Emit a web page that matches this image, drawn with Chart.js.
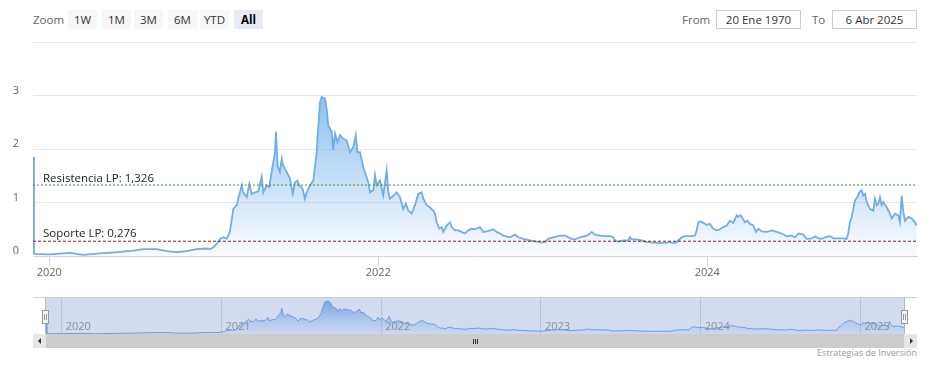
<!DOCTYPE html>
<html>
<head>
<meta charset="utf-8">
<title>Cotización</title>
<script src="https://cdn.jsdelivr.net/npm/chart.js@4.4.1/dist/chart.umd.min.js"></script>
<style>
  body { margin: 0; background: #fff; font-family: "Open Sans", sans-serif; }
  #wrap { position: relative; width: 929px; height: 367px; overflow: hidden; }
  .abs { position: absolute; }
  .txt { top: 10px; height: 19px; line-height: 19px; font-size: 11.5px; color: #666; }
  .btn { top: 10px; width: 29px; height: 19px; line-height: 19px; background: #f7f7f7; color: #333;
         font-size: 11.5px; text-align: center; }
  .btn.on { background: #e6ebf5; color: #000; font-weight: bold; }
  .inp { top: 10px; width: 83px; height: 17px; line-height: 17px; border: 1px solid #ccc; color: #333;
         font-size: 11.5px; text-align: center; }
  .handle { top: 310px; width: 5px; height: 12px; background: #f2f2f2; border: 1px solid #999; }
  .handle i { position: absolute; top: 3px; width: 1px; height: 6px; background: #999; }
  .arrow { width: 0; height: 0; border-top: 3px solid transparent; border-bottom: 3px solid transparent; }
  .grip { top: 339px; width: 1px; height: 5px; background: #333; }
</style>
</head>
<body>
<div id="wrap">
  <div class="abs txt" style="left:33px">Zoom</div>
  <div id="buttons"></div>
  <div class="abs txt" style="left:682px">From</div>
  <div class="abs inp" id="fromBox" style="left:716px"></div>
  <div class="abs txt" style="left:812px">To</div>
  <div class="abs inp" id="toBox" style="left:832px"></div>

  <canvas id="mainChart" class="abs" width="929" height="290" style="left:0;top:0"></canvas>

  <div class="abs" style="left:33px;top:297px;width:884px;height:1px;background:#cfcfcf"></div>
  <canvas id="navChart" class="abs" width="858" height="38" style="left:46px;top:296px"></canvas>
  <div class="abs" style="left:45px;top:298px;width:1px;height:36px;background:#b8b8c0"></div>
  <div class="abs" style="left:904px;top:298px;width:1px;height:36px;background:#b8b8c0"></div>
  <div class="abs handle" style="left:42px"><i style="left:1px"></i><i style="left:3px"></i></div>
  <div class="abs handle" style="left:901px"><i style="left:1px"></i><i style="left:3px"></i></div>

  <div class="abs" style="left:33px;top:334px;width:884px;height:14px;background:#f2f2f2"></div>
  <div class="abs" style="left:46px;top:334px;width:858px;height:14px;background:#cccccc"></div>
  <div class="abs" style="left:33px;top:334px;width:13px;height:14px;background:#e6e6e6"></div>
  <div class="abs" style="left:904px;top:334px;width:13px;height:14px;background:#e6e6e6"></div>
  <div class="abs arrow" style="left:38px;top:338px;border-right:3px solid #333"></div>
  <div class="abs arrow" style="left:910px;top:338px;border-left:3px solid #333"></div>
  <div class="abs grip" style="left:473px"></div>
  <div class="abs grip" style="left:475px"></div>
  <div class="abs grip" style="left:477px"></div>

  <div class="abs" id="credits" style="right:12px;top:346px;font-size:9px;color:#999"></div>
</div>
<script>

// fecha en años decimales
var dates = [
  2019.902, 2019.907, 2020.004, 2020.126, 2020.207, 2020.308, 2020.410, 2020.511, 2020.571, 2020.653,
  2020.714, 2020.774, 2020.835, 2020.896, 2020.957, 2020.977, 2020.997, 2021.018, 2021.038, 2021.058,
  2021.078, 2021.098, 2021.119, 2021.139, 2021.149, 2021.159, 2021.170, 2021.179, 2021.200, 2021.216,
  2021.230, 2021.250, 2021.271, 2021.291, 2021.301, 2021.322, 2021.337, 2021.352, 2021.362, 2021.372,
  2021.378, 2021.388, 2021.402, 2021.413, 2021.422, 2021.443, 2021.463, 2021.480, 2021.494, 2021.508,
  2021.520, 2021.540, 2021.554, 2021.565, 2021.585, 2021.605, 2021.615, 2021.626, 2021.629, 2021.646,
  2021.656, 2021.676, 2021.686, 2021.696, 2021.717, 2021.726, 2021.737, 2021.751, 2021.767, 2021.787,
  2021.808, 2021.828, 2021.848, 2021.863, 2021.873, 2021.889, 2021.909, 2021.919, 2021.939, 2021.950,
  2021.970, 2021.980, 2021.990, 2022.010, 2022.030, 2022.051, 2022.061, 2022.071, 2022.091, 2022.112,
  2022.132, 2022.152, 2022.168, 2022.182, 2022.203, 2022.223, 2022.243, 2022.264, 2022.274, 2022.294,
  2022.314, 2022.334, 2022.345, 2022.355, 2022.371, 2022.385, 2022.395, 2022.416, 2022.436, 2022.446,
  2022.466, 2022.486, 2022.507, 2022.527, 2022.547, 2022.568, 2022.588, 2022.618, 2022.638, 2022.659,
  2022.679, 2022.699, 2022.720, 2022.740, 2022.760, 2022.801, 2022.831, 2022.851, 2022.881, 2022.922,
  2022.963, 2022.993, 2023.013, 2023.033, 2023.064, 2023.105, 2023.135, 2023.155, 2023.176, 2023.196,
  2023.226, 2023.267, 2023.287, 2023.297, 2023.317, 2023.348, 2023.378, 2023.409, 2023.429, 2023.439,
  2023.459, 2023.489, 2023.520, 2023.530, 2023.540, 2023.571, 2023.601, 2023.632, 2023.672, 2023.712,
  2023.753, 2023.773, 2023.793, 2023.814, 2023.824, 2023.844, 2023.864, 2023.895, 2023.925, 2023.936,
  2023.945, 2023.956, 2023.976, 2023.996, 2024.016, 2024.036, 2024.057, 2024.077, 2024.097, 2024.118,
  2024.138, 2024.158, 2024.179, 2024.188, 2024.203, 2024.215, 2024.229, 2024.243, 2024.260, 2024.280,
  2024.296, 2024.310, 2024.331, 2024.361, 2024.392, 2024.422, 2024.452, 2024.483, 2024.513, 2024.533,
  2024.553, 2024.584, 2024.604, 2024.635, 2024.655, 2024.675, 2024.695, 2024.716, 2024.746, 2024.766,
  2024.796, 2024.827, 2024.847, 2024.857, 2024.867, 2024.878, 2024.898, 2024.912, 2024.924, 2024.939,
  2024.948, 2024.959, 2024.969, 2024.989, 2025.009, 2025.019, 2025.030, 2025.040, 2025.050, 2025.060,
  2025.070, 2025.091, 2025.111, 2025.121, 2025.141, 2025.161, 2025.171, 2025.182, 2025.192, 2025.202,
  2025.222, 2025.243, 2025.263, 2025.273
];

var prices = [
  1.85, 0.04, 0.03, 0.06, 0.02, 0.05, 0.07, 0.10, 0.13, 0.13,
  0.09, 0.07, 0.09, 0.13, 0.14, 0.13, 0.16, 0.23, 0.32, 0.35,
  0.32, 0.45, 0.88, 0.95, 1.07, 1.19, 1.32, 1.19, 1.10, 1.35,
  1.16, 1.19, 1.21, 1.48, 1.19, 1.32, 1.29, 1.57, 1.76, 1.94,
  2.32, 1.69, 1.57, 1.82, 1.69, 1.57, 1.45, 1.16, 1.38, 1.41,
  1.32, 1.26, 1.07, 1.19, 1.32, 1.41, 1.66, 1.94, 2.16, 2.88,
  2.97, 2.94, 2.76, 2.44, 2.32, 1.98, 2.29, 2.13, 2.26, 2.19,
  2.16, 1.94, 2.04, 2.26, 1.94, 1.94, 1.66, 1.57, 1.38, 1.19,
  1.23, 1.51, 1.32, 1.41, 1.13, 1.60, 1.19, 1.07, 1.13, 1.19,
  1.10, 0.88, 0.98, 0.85, 0.79, 0.95, 1.16, 1.19, 1.07, 0.95,
  0.91, 0.85, 0.79, 0.63, 0.51, 0.54, 0.45, 0.57, 0.63, 0.54,
  0.48, 0.48, 0.45, 0.42, 0.48, 0.51, 0.50, 0.54, 0.45, 0.46,
  0.48, 0.50, 0.45, 0.42, 0.38, 0.35, 0.40, 0.35, 0.32, 0.29,
  0.27, 0.25, 0.26, 0.32, 0.35, 0.38, 0.38, 0.35, 0.32, 0.31,
  0.35, 0.38, 0.42, 0.45, 0.40, 0.38, 0.37, 0.37, 0.35, 0.29,
  0.27, 0.29, 0.29, 0.35, 0.31, 0.31, 0.29, 0.26, 0.25, 0.24,
  0.25, 0.26, 0.24, 0.26, 0.29, 0.35, 0.37, 0.37, 0.38, 0.48,
  0.63, 0.65, 0.62, 0.58, 0.60, 0.51, 0.48, 0.50, 0.54, 0.57,
  0.66, 0.62, 0.76, 0.73, 0.76, 0.70, 0.63, 0.66, 0.60, 0.57,
  0.45, 0.51, 0.46, 0.45, 0.48, 0.45, 0.42, 0.37, 0.38, 0.35,
  0.42, 0.40, 0.32, 0.33, 0.37, 0.33, 0.32, 0.35, 0.37, 0.33,
  0.33, 0.33, 0.32, 0.42, 0.63, 0.73, 1.04, 1.10, 1.19, 1.23,
  1.13, 1.16, 1.01, 0.88, 0.85, 1.07, 0.95, 0.98, 1.10, 0.95,
  1.01, 0.91, 0.79, 0.70, 0.79, 0.76, 0.63, 1.13, 0.82, 0.66,
  0.73, 0.70, 0.63, 0.57
];

var resistance = 1.326;
var support = 0.276;
var yTicks = [0, 1, 2, 3, 4];
var mainYears = [2020, 2022, 2024];
var navYears = [2020, 2021, 2022, 2023, 2024, 2025];
var zoomButtons = ["1W", "1M", "3M", "6M", "YTD", "All"];
var fromDate = "20 Ene 1970";
var toDate = "6 Abr 2025";
var credits = "Estrategias de Inversión";

var xMin = 2019.901;
var xMax = 2025.275;

function buildPoints() {

  var points = [];
  for (var i = 0; i < dates.length; i++) {

    points.push({ x: dates[i], y: prices[i] });
  }
  return points;
}

function buildTopBar() {

  var lefts = [68, 102, 134, 168, 200, 234];
  var holder = document.getElementById("buttons");
  for (var i = 0; i < zoomButtons.length; i++) {

    var b = document.createElement("div");
    b.className = "abs btn" + (zoomButtons[i] == "All" ? " on" : "");
    b.style.left = lefts[i] + "px";
    b.textContent = zoomButtons[i];
    holder.appendChild(b);
  }
  document.getElementById("fromBox").textContent = fromDate;
  document.getElementById("toBox").textContent = toDate;
  document.getElementById("credits").textContent = credits;
}

function fmt(v) {

  return v.toFixed(3).replace(".", ",");
}

var levelLabels = {
  id: "levelLabels",
  afterDatasetsDraw: function(chart) {

    var ctx = chart.ctx;
    var y = chart.scales.y;
    var left = chart.chartArea.left + 10;
    ctx.save();
    ctx.font = "11.5px 'Open Sans', sans-serif";
    ctx.fillStyle = "#222";
    ctx.textBaseline = "alphabetic";
    ctx.fillText("Resistencia LP: " + fmt(resistance), left, y.getPixelForValue(resistance) - 3);
    ctx.fillText("Soporte LP: " + fmt(support), left, y.getPixelForValue(support) - 4);
    ctx.restore();
  }
};

function mainChart() {

  var points = buildPoints();
  var top = Math.max.apply(null, prices);
  var ctx = document.getElementById("mainChart").getContext("2d");

  new Chart(ctx, {
    type: "line",
    data: {
      datasets: [{
        data: points,
        borderColor: "#72aee6",
        borderWidth: 1.8,
        pointRadius: 0,
        fill: "origin",
        order: 2,
        backgroundColor: function(context) {
          var chart = context.chart;
          if (!chart.chartArea) return "rgba(124,181,236,0.3)";
          var yTop = chart.scales.y.getPixelForValue(top);
          var g = chart.ctx.createLinearGradient(0, yTop, 0, chart.chartArea.bottom);
          g.addColorStop(0, "rgba(124,181,236,0.85)");
          g.addColorStop(1, "rgba(124,181,236,0.04)");
          return g;
        }
      }, {
        data: [{ x: xMin, y: resistance }, { x: xMax, y: resistance }],
        borderColor: "#3f8f3f",
        borderWidth: 1,
        borderDash: [2, 2],
        pointRadius: 0,
        fill: false,
        order: 1
      }, {
        data: [{ x: xMin, y: support }, { x: xMax, y: support }],
        borderColor: "#8b1e1e",
        borderWidth: 1,
        borderDash: [3, 2],
        pointRadius: 0,
        fill: false,
        order: 1
      }]
    },
    options: {
      responsive: false,
      animation: false,
      devicePixelRatio: 1,
      layout: { padding: { top: 42, right: 12, left: 0, bottom: 0 } },
      plugins: { legend: { display: false }, tooltip: { enabled: false } },
      elements: { line: { tension: 0 } },
      scales: {
        x: {
          type: "linear",
          min: xMin,
          max: xMax,
          afterBuildTicks: function(scale) {
            scale.ticks = mainYears.map(function(v) { return { value: v }; });
          },
          afterFit: function(scale) { scale.height = 34; },
          grid: { drawOnChartArea: false, drawTicks: true, tickLength: 10, color: "#ccd6eb" },
          border: { display: true, color: "#ccd6eb" },
          ticks: {
            color: "#666",
            font: { family: "'Open Sans', sans-serif", size: 11 },
            padding: 0,
            maxRotation: 0,
            callback: function(v) { return String(v); }
          }
        },
        y: {
          min: 0,
          max: 4,
          afterBuildTicks: function(scale) {
            scale.ticks = yTicks.map(function(v) { return { value: v }; });
          },
          afterFit: function(scale) { scale.width = 33; },
          grid: { color: "#e6e6e6", drawTicks: false },
          border: { display: false },
          ticks: {
            color: "#666",
            font: { family: "'Open Sans', sans-serif", size: 11 },
            padding: 14,
            labelOffset: -5,
            callback: function(v) { return v == 4 ? "" : String(v); }
          }
        }
      }
    },
    plugins: [levelLabels]
  });
}

var navigatorDecor = {
  id: "navigatorDecor",
  beforeDraw: function(chart) {

    var a = chart.chartArea;
    var ctx = chart.ctx;
    ctx.save();
    ctx.fillStyle = "#d3dbef";
    ctx.fillRect(a.left, a.top, a.right - a.left, a.bottom - a.top);
    ctx.restore();
  },
  afterDraw: function(chart) {

    var ctx = chart.ctx;
    var x = chart.scales.x;
    ctx.save();
    ctx.font = "11px 'Open Sans', sans-serif";
    ctx.fillStyle = "#8a8f99";
    ctx.textBaseline = "middle";
    for (var i = 0; i < navYears.length; i++) {

      ctx.fillText(String(navYears[i]), x.getPixelForValue(navYears[i]) + 4, chart.chartArea.bottom - 7);
    }
    ctx.restore();
  }
};

function navigatorChart() {

  var points = buildPoints();
  var ctx = document.getElementById("navChart").getContext("2d");

  new Chart(ctx, {
    type: "line",
    data: {
      datasets: [{
        data: points,
        borderColor: "#6e9fdc",
        borderWidth: 1,
        pointRadius: 0,
        fill: "origin",
        backgroundColor: function(context) {
          var chart = context.chart;
          if (!chart.chartArea) return "rgba(100,150,220,0.4)";
          var g = chart.ctx.createLinearGradient(0, chart.chartArea.top, 0, chart.chartArea.bottom);
          g.addColorStop(0, "rgba(95,148,222,0.85)");
          g.addColorStop(1, "rgba(124,181,236,0.1)");
          return g;
        }
      }]
    },
    options: {
      responsive: false,
      animation: false,
      devicePixelRatio: 1,
      layout: { padding: { top: 2, right: 0, left: 0, bottom: 0 } },
      plugins: { legend: { display: false }, tooltip: { enabled: false } },
      elements: { line: { tension: 0 } },
      scales: {
        x: {
          type: "linear",
          min: dates[0],
          max: dates[dates.length - 1],
          afterBuildTicks: function(scale) {
            scale.ticks = navYears.map(function(v) { return { value: v }; });
          },
          afterFit: function(scale) { scale.height = 0; },
          grid: { color: "rgba(120,132,165,0.3)", drawTicks: false },
          border: { display: false },
          ticks: { display: false }
        },
        y: { display: false, min: 0, max: 3.25 }
      }
    },
    plugins: [navigatorDecor]
  });
}

function init() {

  buildTopBar();
  mainChart();
  navigatorChart();
}

init();
</script>
</body>
</html>
